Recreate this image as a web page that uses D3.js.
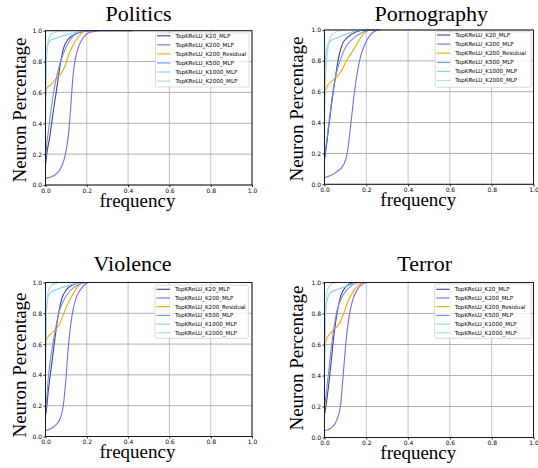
<!DOCTYPE html>
<html>
<head>
<meta charset="utf-8">
<script src="https://cdn.jsdelivr.net/npm/d3@7/dist/d3.min.js"></script>
<style>
body { margin: 0; background: #fff; }
#container { width: 538px; height: 468px; }
text { fill: #000; }
.tick text { font-family: "DejaVu Sans", sans-serif; font-size: 6px; }
.serif { font-family: "Liberation Serif", "Times New Roman", serif; }
</style>
</head>
<body>
<div id="container"></div>
<script>
var panels = ["Politics", "Pornography", "Violence", "Terror"];
var seriesNames = ["TopKReLU_K20_MLP", "TopKReLU_K200_MLP", "TopKReLU_K200_Residual",
	"TopKReLU_K500_MLP", "TopKReLU_K1000_MLP", "TopKReLU_K2000_MLP"];
var seriesColors = ["#483D8B", "#7B68EE", "#FFA500", "#6495ED", "#87CEFA", "#ADD8E6"];
var ticks = [0, 0.2, 0.4, 0.6, 0.8, 1.0];

// [frequency, neuron percentage], one list per series
var politics = [
	[[0,0.13],[0.005,0.19],[0.021,0.315],[0.037,0.47],[0.054,0.62],[0.07,0.77],[0.086,0.88],[0.11,0.945],[0.15,0.98],[0.18,0.995],[0.22,1.0],[0.42,1.0]],
	[[0,0.043],[0.046,0.065],[0.078,0.12],[0.094,0.185],[0.11,0.315],[0.119,0.445],[0.127,0.6],[0.135,0.73],[0.148,0.84],[0.164,0.91],[0.184,0.957],[0.208,0.985],[0.257,1.0]],
	[[0,0.57],[0.008,0.63],[0.029,0.652],[0.054,0.696],[0.078,0.728],[0.094,0.77],[0.11,0.837],[0.127,0.89],[0.151,0.946],[0.176,0.985],[0.2,1.0]],
	[[0,0.17],[0.005,0.25],[0.013,0.337],[0.029,0.51],[0.046,0.65],[0.062,0.75],[0.086,0.85],[0.11,0.92],[0.135,0.967],[0.167,0.99],[0.2,1.0]],
	[[0,0.4],[0.005,0.815],[0.01,0.9],[0.021,0.935],[0.046,0.95],[0.086,0.967],[0.135,0.985],[0.18,1.0]],
	[[0,0.5],[0.005,0.86],[0.018,0.957],[0.037,0.985],[0.07,0.997],[0.1,1.0]]
];
var pornography = [
	[[0,0.16],[0.005,0.205],[0.021,0.378],[0.037,0.55],[0.053,0.70],[0.069,0.83],[0.085,0.907],[0.109,0.95],[0.149,0.987],[0.197,1.0],[0.27,1.0]],
	[[0,0.043],[0.053,0.076],[0.093,0.13],[0.109,0.205],[0.125,0.378],[0.141,0.572],[0.157,0.724],[0.173,0.83],[0.197,0.918],[0.22,0.97],[0.253,1.0]],
	[[0,0.57],[0.013,0.637],[0.037,0.67],[0.061,0.70],[0.085,0.745],[0.109,0.81],[0.125,0.842],[0.149,0.896],[0.173,0.95],[0.205,0.994],[0.229,1.0]],
	[[0,0.18],[0.005,0.227],[0.021,0.40],[0.037,0.572],[0.053,0.70],[0.077,0.81],[0.1,0.886],[0.133,0.94],[0.165,0.972],[0.205,0.996],[0.229,1.0]],
	[[0,0.4],[0.005,0.81],[0.013,0.896],[0.029,0.93],[0.061,0.95],[0.1,0.972],[0.149,0.994],[0.18,1.0]],
	[[0,0.45],[0.005,0.70],[0.021,0.918],[0.037,0.972],[0.069,0.994],[0.1,1.0]]
];
var violence = [
	[[0,0.14],[0.003,0.157],[0.013,0.29],[0.029,0.46],[0.046,0.64],[0.062,0.79],[0.078,0.89],[0.102,0.954],[0.135,0.987],[0.176,1.0],[0.35,1.0]],
	[[0,0.037],[0.046,0.07],[0.07,0.114],[0.086,0.2],[0.099,0.375],[0.11,0.572],[0.122,0.725],[0.135,0.834],[0.151,0.91],[0.176,0.965],[0.2,0.996],[0.215,1.0]],
	[[0,0.58],[0.008,0.638],[0.029,0.67],[0.054,0.703],[0.07,0.736],[0.086,0.79],[0.102,0.845],[0.127,0.91],[0.151,0.965],[0.176,0.996],[0.195,1.0]],
	[[0,0.17],[0.003,0.2],[0.013,0.375],[0.029,0.55],[0.046,0.68],[0.062,0.79],[0.086,0.878],[0.11,0.932],[0.135,0.965],[0.167,0.99],[0.19,1.0]],
	[[0,0.4],[0.005,0.81],[0.013,0.91],[0.029,0.939],[0.054,0.954],[0.086,0.97],[0.135,0.99],[0.17,1.0]],
	[[0,0.45],[0.003,0.77],[0.013,0.943],[0.029,0.983],[0.054,0.996],[0.07,1.0]]
];
var terror = [
	[[0,0.15],[0.005,0.186],[0.018,0.316],[0.032,0.49],[0.045,0.66],[0.061,0.81],[0.077,0.91],[0.1,0.97],[0.133,0.996],[0.16,1.0],[0.28,1.0]],
	[[0,0.043],[0.037,0.067],[0.061,0.12],[0.077,0.208],[0.088,0.38],[0.1,0.576],[0.112,0.727],[0.125,0.835],[0.141,0.91],[0.157,0.954],[0.181,0.99],[0.205,1.0]],
	[[0,0.55],[0.008,0.63],[0.029,0.673],[0.053,0.705],[0.072,0.738],[0.093,0.803],[0.109,0.868],[0.133,0.933],[0.157,0.976],[0.181,0.998],[0.2,1.0]],
	[[0,0.2],[0.005,0.25],[0.018,0.40],[0.032,0.576],[0.045,0.705],[0.061,0.825],[0.085,0.91],[0.109,0.954],[0.133,0.983],[0.16,1.0]],
	[[0,0.4],[0.005,0.814],[0.013,0.89],[0.029,0.933],[0.061,0.955],[0.093,0.97],[0.133,0.99],[0.17,1.0]],
	[[0,0.45],[0.003,0.75],[0.013,0.944],[0.029,0.987],[0.053,0.998],[0.07,1.0]]
];
var panelData = [politics, pornography, violence, terror];

// layout of each subplot (pixels)
var layout = [
	{ l: 45.5, r: 252, t: 30.7, b: 185, title: [138.5, 21], ylab: [26, 110], xlab: [137.5, 206.5], leg: [155.5, 33, 249, 87, 35.8, 9.05] },
	{ l: 324.5, r: 533.5, t: 30, b: 184.3, title: [431.3, 20.5], ylab: [302.5, 109], xlab: [418.3, 205.5], leg: [435.3, 31.7, 531.3, 87.3, 35, 9.1] },
	{ l: 45.5, r: 252, t: 282.5, b: 436.5, title: [132.5, 270.7], ylab: [25.5, 365], xlab: [137.5, 457.5], leg: [155, 285, 248.3, 338.3, 289.3, 8.7] },
	{ l: 324.5, r: 533.5, t: 282.5, b: 437.5, title: [424.7, 270.7], ylab: [302.5, 358], xlab: [418.3, 458.5], leg: [434.7, 284, 531.3, 338.3, 289.3, 8.7] }
];

var svg = d3.select("#container").append("svg")
	.attr("width", 538)
	.attr("height", 468);

panels.forEach(function(name, p) {
	var L = layout[p];
	var x = d3.scaleLinear().domain([0, 1]).range([L.l, L.r]);
	var y = d3.scaleLinear().domain([0, 1]).range([L.b, L.t]);
	var g = svg.append("g").attr("class", "panel");

	// grid
	g.append("g").selectAll("line.vg").data(ticks).enter().append("line")
		.attr("x1", function(d) { return x(d); }).attr("x2", function(d) { return x(d); })
		.attr("y1", L.t).attr("y2", L.b)
		.attr("stroke", "#c4c4c4").attr("stroke-width", 1);
	g.append("g").selectAll("line.hg").data(ticks).enter().append("line")
		.attr("y1", function(d) { return y(d); }).attr("y2", function(d) { return y(d); })
		.attr("x1", L.l).attr("x2", L.r)
		.attr("stroke", "#b0b0b0").attr("stroke-width", 1);

	// axes
	var fmt = d3.format(".1f");
	g.append("g").attr("transform", "translate(0," + L.b + ")")
		.call(d3.axisBottom(x).tickValues(ticks).tickFormat(fmt).tickSize(2).tickPadding(1.5))
		.call(function(a) { a.select(".domain").remove(); a.selectAll("line").attr("stroke", "#222"); });
	g.append("g").attr("transform", "translate(" + L.l + ",0)")
		.call(d3.axisLeft(y).tickValues(ticks).tickFormat(fmt).tickSize(2).tickPadding(1.5))
		.call(function(a) { a.select(".domain").remove(); a.selectAll("line").attr("stroke", "#222"); });

	// curves
	var line = d3.line()
		.x(function(d) { return x(d[0]); })
		.y(function(d) { return y(d[1]); })
		.curve(d3.curveMonotoneX);
	g.append("g").selectAll("path").data(panelData[p]).enter().append("path")
		.attr("d", line)
		.attr("fill", "none")
		.attr("stroke", function(d, i) { return seriesColors[i]; })
		.attr("stroke-width", 1.1);

	// frame
	g.append("rect")
		.attr("x", L.l).attr("y", L.t)
		.attr("width", L.r - L.l).attr("height", L.b - L.t)
		.attr("fill", "none").attr("stroke", "#1a1a1a").attr("stroke-width", 1);

	// legend
	var lg = L.leg;
	var leg = g.append("g");
	leg.append("rect")
		.attr("x", lg[0]).attr("y", lg[1])
		.attr("width", lg[2] - lg[0]).attr("height", lg[3] - lg[1])
		.attr("rx", 1.5)
		.attr("fill", "#fff").attr("fill-opacity", 0.8)
		.attr("stroke", "#d0d0d0").attr("stroke-width", 0.8);
	var item = leg.selectAll(".item").data(seriesNames).enter().append("g")
		.attr("transform", function(d, i) { return "translate(" + (lg[0] + 1.5) + "," + (lg[4] + i * lg[5]) + ")"; });
	item.append("line")
		.attr("x1", 0).attr("x2", 13.5)
		.attr("stroke", function(d, i) { return seriesColors[i]; })
		.attr("stroke-width", 1.1);
	item.append("text")
		.attr("x", 18.5).attr("dy", "0.35em")
		.style("font-family", "'DejaVu Sans', sans-serif")
		.style("font-size", "5.6px")
		.text(function(d) { return d; });

	// labels
	g.append("text").attr("class", "serif")
		.attr("x", L.title[0]).attr("y", L.title[1])
		.attr("text-anchor", "middle")
		.style("font-size", "22px")
		.text(name);
	g.append("text").attr("class", "serif")
		.attr("transform", "translate(" + L.ylab[0] + "," + L.ylab[1] + ") rotate(-90)")
		.attr("text-anchor", "middle")
		.style("font-size", "19px")
		.text("Neuron Percentage");
	g.append("text").attr("class", "serif")
		.attr("x", L.xlab[0]).attr("y", L.xlab[1])
		.attr("text-anchor", "middle")
		.style("font-size", "19px")
		.text("frequency");
});
</script>
</body>
</html>
